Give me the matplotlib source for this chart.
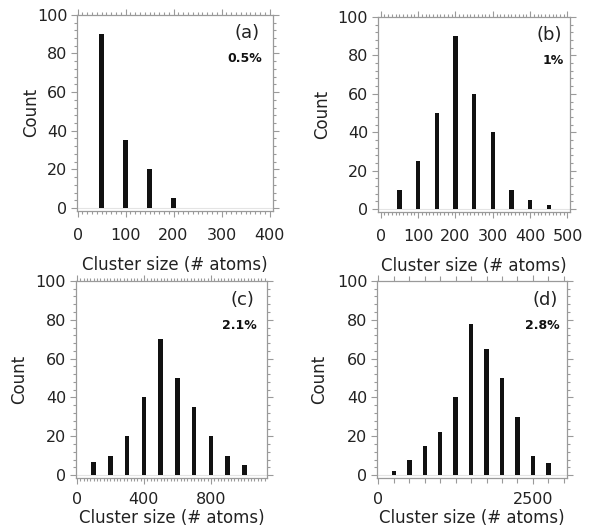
import matplotlib
matplotlib.use("Agg")
import matplotlib.pyplot as plt
from matplotlib.ticker import MultipleLocator, FixedLocator

# cluster size histograms
size_a = [50, 100, 150, 200]
count_a = [90, 35, 20, 5]

size_b = [50, 100, 150, 200, 250, 300, 350, 400, 450]
count_b = [10, 25, 50, 90, 60, 40, 10, 5, 2]

size_c = [100, 200, 300, 400, 500, 600, 700, 800, 900, 1000]
count_c = [7, 10, 20, 40, 70, 50, 35, 20, 10, 5]

size_d = [250, 500, 750, 1000, 1250, 1500, 1750, 2000, 2250, 2500, 2750]
count_d = [2, 8, 15, 22, 40, 78, 65, 50, 30, 10, 6]

letters = ["(a)", "(b)", "(c)", "(d)"]
percents = ["0.5%", "1%", "2.1%", "2.8%"]

fig = plt.figure(figsize=(5.93, 5.30), dpi=100)

panels = [
    # data, axes rect, xlim, bar width, x major ticks, x minor step, ylabel x, text x
    (size_a, count_a, [0.130, 0.602, 0.331, 0.370], (-1, 408), 9.5,
     [0, 100, 200, 300, 400], 10, -0.19, 0.93),
    (size_b, count_b, [0.637, 0.600, 0.325, 0.368], (-8, 508), 12,
     [0, 100, 200, 300, 400, 500], 10, -0.24, 0.955),
    (size_c, count_c, [0.128, 0.098, 0.322, 0.372], (-6, 1134), 27,
     [0, 400, 800], 20, -0.25, 0.935),
    (size_d, count_d, [0.636, 0.098, 0.320, 0.372], (-20, 3050), 72,
     [0, 2500], 250, -0.26, 0.95),
]

grey = "#9a9a9a"
ink = "#222222"

for i, (x, y, rect, xlim, w, xt, xminor, ylx, tx) in enumerate(panels):
    ax = fig.add_axes(rect)
    ax.bar(x, y, width=w, color="#111111", zorder=3)
    ax.axhline(0, color="#e4e4e4", lw=0.8, zorder=1)
    ax.set_xlim(*xlim)
    ax.set_ylim(-1.5, 100)

    ax.xaxis.set_major_locator(FixedLocator(xt))
    ax.xaxis.set_minor_locator(MultipleLocator(xminor))
    ax.yaxis.set_major_locator(MultipleLocator(20))
    ax.yaxis.set_minor_locator(MultipleLocator(4))

    for s in ax.spines.values():
        s.set_color(grey)
        s.set_linewidth(0.9)
    ax.tick_params(which="both", direction="out", top=True, right=True,
                   color=grey, width=0.8, labelcolor=ink)
    ax.tick_params(which="major", length=4, labelsize=11.5)
    ax.tick_params(which="minor", length=2)
    ax.tick_params(axis="y", which="major", pad=3)
    if i == 3:
        ax.tick_params(axis="x", which="minor", length=3.5)

    top_row = i < 2
    ax.tick_params(axis="x", which="major", pad=8.5 if top_row else 6)

    ax.set_xlabel("Cluster size (# atoms)", fontsize=12, color=ink)
    ax.set_ylabel("Count", fontsize=12, color=ink)
    ax.xaxis.set_label_coords(0.5, -0.232 if top_row else -0.155)
    ax.yaxis.set_label_coords(ylx, 0.5)

    ax.text(tx, 0.905, letters[i], transform=ax.transAxes, ha="right",
            va="center", fontsize=13, color=ink)
    ax.text(tx + 0.012, 0.775, percents[i], transform=ax.transAxes, ha="right",
            va="center", fontsize=9, fontweight="bold", color="#111111")

fig.savefig("out.png", dpi=100)
